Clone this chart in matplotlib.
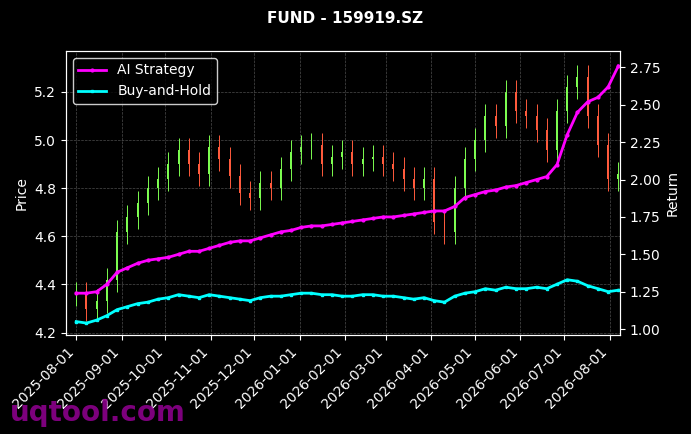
import matplotlib
matplotlib.use("Agg")
import matplotlib.pyplot as plt
import matplotlib.dates as mdates
import pandas as pd
import numpy as np

dates = pd.date_range("2025-08-01", periods=54, freq="W-FRI")
close = [4.36,4.30,4.33,4.42,4.62, 4.68,4.74,4.80,4.84,
         4.90,4.96,4.90,4.86,4.97, 4.92,4.85,4.78,4.76,
         4.82,4.80,4.88,4.95, 4.97,4.98,4.90,4.93,4.95,
         4.90,4.92,4.93,4.90, 4.88,4.84,4.80,4.84,
         4.66,4.62,4.80,4.92, 5.00,5.10,5.06,5.20,5.12,
         5.10,5.04,4.96,5.12, 5.22,5.26,5.10,4.98,4.84, 4.86]
ai_ret = [1.24,1.24,1.25,1.30,1.38, 1.41,1.44,1.46,1.47, 1.48,1.50,1.52,1.52,1.54,
          1.56,1.58,1.59,1.59, 1.61,1.63,1.65,1.66, 1.68,1.69,1.69,1.70,1.71,
          1.72,1.73,1.74,1.75, 1.75,1.76,1.77,1.78, 1.79,1.79,1.82,1.88,
          1.90,1.92,1.93,1.95,1.96, 1.98,2.00,2.02,2.10, 2.30,2.45,2.52,2.55,2.62, 2.76]
bh_ret = [1.05,1.04,1.06,1.09,1.13, 1.15,1.17,1.18,1.20, 1.21,1.23,1.22,1.21,1.23,
          1.22,1.21,1.20,1.19, 1.21,1.22,1.22,1.23, 1.24,1.24,1.23,1.23,1.22,
          1.22,1.23,1.23,1.22, 1.22,1.21,1.20,1.21, 1.19,1.18,1.22,1.24,
          1.25,1.27,1.26,1.28,1.27, 1.27,1.28,1.27,1.30, 1.33,1.32,1.29,1.27,1.25, 1.26]

opens = [close[0]] + close[:-1]
fig = plt.figure(figsize=(6.91, 4.34), dpi=100, facecolor="black")
ax = fig.add_axes([0.0955, 0.228, 0.8015, 0.6545], facecolor="black")
for d, o, c in zip(dates, opens, close):
    col = "#7CFC50" if c >= o else "#FF5A3C"
    x = mdates.date2num(d)
    ax.vlines(x, min(o, c) - 0.05, max(o, c) + 0.05, color=col, lw=0.7)
    ax.bar(x, max(abs(c - o), 0.01), bottom=min(o, c), width=1.3, color=col)
ax.set_ylim(4.19, 5.37)
ax.set_xlim(mdates.date2num(pd.Timestamp("2025-07-25")), mdates.date2num(pd.Timestamp("2026-08-08")))
ax.set_ylabel("Price", color="white")
ax.grid(True, color="gray", ls="--", lw=0.5, alpha=0.6)
ax.xaxis.set_major_locator(mdates.MonthLocator())
ax.xaxis.set_major_formatter(mdates.DateFormatter("%Y-%m-%d"))
plt.setp(ax.get_xticklabels(), rotation=45, ha="right")
ax.tick_params(colors="white")
for s in ax.spines.values():
    s.set_color("white")

ax2 = ax.twinx()
ax2.plot(dates, ai_ret, color="#FF00FF", lw=2, marker="o", ms=2, label="AI Strategy")
ax2.plot(dates, bh_ret, color="#00FFFF", lw=2, marker="s", ms=2, label="Buy-and-Hold")
ax2.set_ylim(0.96, 2.86)
ax2.set_ylabel("Return", color="white")
ax2.tick_params(colors="white")
for s in ax2.spines.values():
    s.set_color("white")
ax2.legend(loc="upper left", facecolor="black", edgecolor="white", labelcolor="white")

fig.suptitle("FUND - 159919.SZ", color="white", fontweight="bold", y=0.975, fontsize=11)
fig.text(0.015, 0.03, "uqtool.com", color="#8B008B", fontsize=20, fontweight="bold", alpha=0.9)
fig.savefig("out.png", dpi=100, facecolor="black")
